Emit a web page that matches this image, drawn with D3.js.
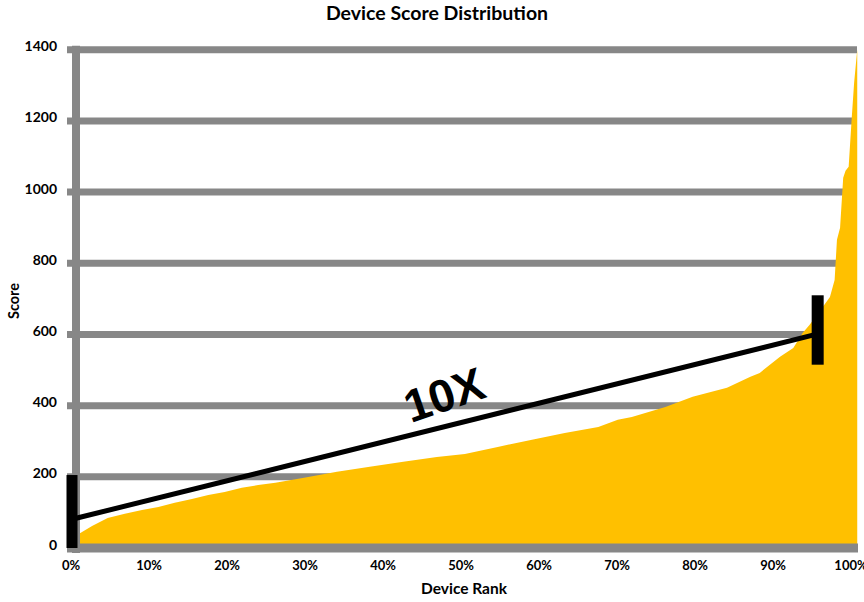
<!DOCTYPE html>
<html>
<head>
<meta charset="utf-8">
<script src="https://cdn.jsdelivr.net/npm/d3@7"></script>
<style>
  html, body { margin: 0; padding: 0; background: #ffffff; }
  svg { display: block; }
  text { font-family: Lato, "Open Sans", "Liberation Sans", sans-serif; font-weight: bold; fill: #000; }
</style>
</head>
<body>
<svg id="chart" width="864" height="602"></svg>
<script>
// ---------- data ----------
const chartTitle = "Device Score Distribution";
const xAxisTitle = "Device Rank";
const yAxisTitle = "Score";
const xTickValues = [0, 10, 20, 30, 40, 50, 60, 70, 80, 90, 100];
const xTickLabels = ["0%", "10%", "20%", "30%", "40%", "50%", "60%", "70%", "80%", "90%", "100%"];
const yTickValues = [0, 200, 400, 600, 800, 1000, 1200, 1400];

// device rank (%) and score
const rankPct = [0, 1.2, 2.7, 4.7, 6.9, 9.1, 11.2, 13.3, 15.5, 17.6, 19.7, 21.9, 24.0, 26.2,
  29.7, 34.1, 38.3, 42.6, 46.9, 50.5, 54.7, 59.1, 63.3, 67.6, 70.1, 71.9, 76.2, 79.7,
  84.1, 87.1, 88.3, 90.9, 92.6, 93.8, 94.7, 96.4, 97.3, 97.9, 98.2, 98.6, 99.0, 99.3, 99.7,
  100.1, 100.4, 100.8];
const scores = [35, 42, 62, 84, 96, 107, 115, 127, 138, 149, 157, 169, 177, 183,
  197, 214, 228, 242, 256, 264, 284, 304, 323, 340, 360, 368, 396, 425,
  450, 481, 492, 537, 562, 604, 627, 678, 705, 753, 866, 900, 1040, 1060, 1071,
  1210, 1307, 1400];

// "10X" annotation
const trendRank = [0, 95.5];
const trendScore = [80, 600];
const markerRank = [0, 95.6];
const markerLow = [0, 515];
const markerHigh = [205, 710];
const annotationText = "10X";
const annotationAt = { rank: 48.0, score: 420 };

// ---------- drawing ----------
const svg = d3.select("#chart");
const x = d3.scaleLinear().domain([0, 100]).range([71, 851]);
const y = d3.scaleLinear().domain([0, 1400]).range([548, 49.7]);
const grey = "#878787";
const gold = "#FFC000";

// gridlines
svg.append("g").selectAll("line")
  .data(yTickValues.filter(v => v > 0))
  .join("line")
  .attr("x1", x(0) - 4).attr("x2", x(100) + 6)
  .attr("y1", d => y(d)).attr("y2", d => y(d))
  .attr("stroke", grey).attr("stroke-width", 7);

// area (stepped, like the many-point original)
const pts = rankPct.map((r, i) => ({ r, s: scores[i] }));
svg.append("path")
  .datum(pts)
  .attr("fill", gold)
  .attr("d", d3.area().x(d => x(d.r)).y0(y(0)).y1(d => y(d.s)));

// left axis line
svg.append("line")
  .attr("x1", x(0) + 5).attr("x2", x(0) + 5)
  .attr("y1", y(1400) - 4).attr("y2", y(0) + 5)
  .attr("stroke", grey).attr("stroke-width", 8);

// bottom axis line
svg.append("line")
  .attr("x1", x(0) - 4).attr("x2", x(100) + 7)
  .attr("y1", y(0)).attr("y2", y(0))
  .attr("stroke", grey).attr("stroke-width", 9);

// y tick labels
svg.append("g").selectAll("text")
  .data(yTickValues)
  .join("text")
  .attr("x", 57).attr("y", d => y(d) - 2)
  .attr("text-anchor", "end")
  .attr("dominant-baseline", "middle")
  .attr("font-size", 14)
  .text(d => d);

// x tick labels
svg.append("g").selectAll("text")
  .data(xTickValues)
  .join("text")
  .attr("x", d => x(d)).attr("y", 567)
  .attr("text-anchor", "middle")
  .attr("dominant-baseline", "middle")
  .attr("font-size", 13)
  .text((d, i) => xTickLabels[i]);

// titles
svg.append("text")
  .attr("x", 437).attr("y", 15)
  .attr("text-anchor", "middle").attr("dominant-baseline", "middle")
  .attr("font-size", 19.5)
  .text(chartTitle);
svg.append("text")
  .attr("x", 464).attr("y", 590)
  .attr("text-anchor", "middle").attr("dominant-baseline", "middle")
  .attr("font-size", 15.5)
  .text(xAxisTitle);
svg.append("text")
  .attr("transform", "translate(15,301) rotate(-90)")
  .attr("text-anchor", "middle").attr("dominant-baseline", "middle")
  .attr("font-size", 14.5)
  .text(yAxisTitle);

// trend line
svg.append("line")
  .attr("x1", x(trendRank[0])).attr("y1", y(trendScore[0]))
  .attr("x2", x(trendRank[1])).attr("y2", y(trendScore[1]))
  .attr("stroke", "#000").attr("stroke-width", 5);

// markers
const mw = [11, 12];
svg.append("g").selectAll("rect")
  .data(markerRank.map((r, i) => ({ r, lo: markerLow[i], hi: markerHigh[i], w: mw[i] })))
  .join("rect")
  .attr("x", d => x(d.r) - d.w / 2 + 1)
  .attr("y", d => y(d.hi))
  .attr("width", d => d.w)
  .attr("height", d => y(d.lo) - y(d.hi))
  .attr("fill", "#000");

// annotation text
svg.append("text")
  .attr("transform", `translate(${x(annotationAt.rank)},${y(annotationAt.score)}) rotate(-19)`)
  .attr("text-anchor", "middle").attr("dominant-baseline", "middle")
  .style("font-family", "'Liberation Sans', Arial, sans-serif")
  .attr("font-size", 46)
  .text(annotationText);
</script>
</body>
</html>
